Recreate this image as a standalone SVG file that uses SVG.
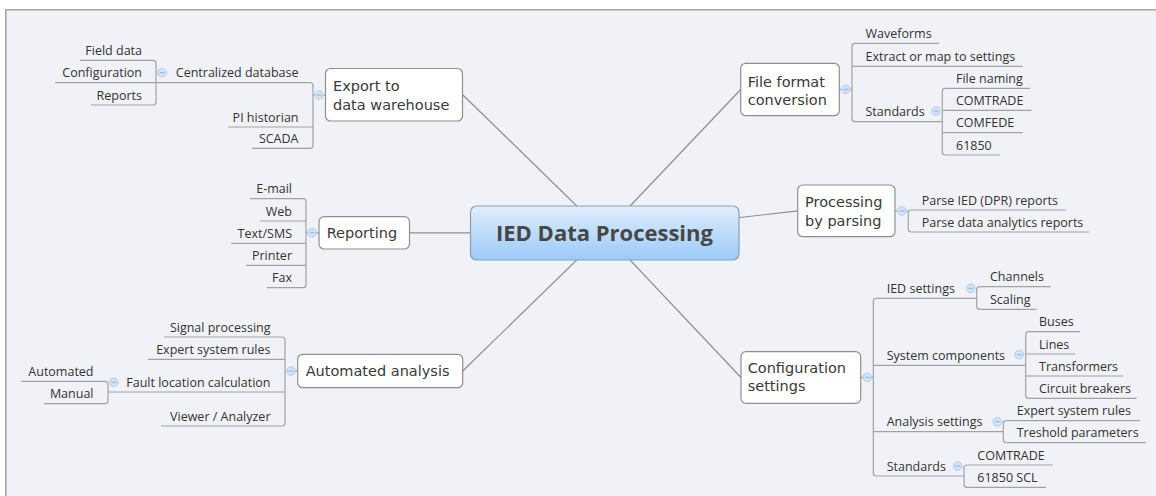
<svg xmlns="http://www.w3.org/2000/svg" width="1156" height="496" viewBox="0 0 1156 496">
<defs>
<linearGradient id="cg" x1="0" y1="0" x2="0" y2="1">
<stop offset="0" stop-color="#e0eefd"/>
<stop offset="1" stop-color="#9ccaf8"/>
</linearGradient>
<style>
.t{font-family:"Open Sans","DejaVu Sans",sans-serif;font-size:12.5px;fill:#333}
.e{text-anchor:end}
.m{font-family:"DejaVu Sans","Open Sans",sans-serif;font-size:14.5px;fill:#3a3a3a}
.c{font-family:"Open Sans","DejaVu Sans",sans-serif;font-size:22px;font-weight:bold;fill:#474747;text-anchor:middle}
.u{stroke:#a2a2a2;stroke-width:1.2;fill:none}
.ln{stroke:#8e8e8e;stroke-width:1.2;fill:none}
.box{fill:#fff;stroke:#8f8f8f;stroke-width:1.2}
.cc{fill:#d3e3f8;stroke:#b4cbec;stroke-width:1}
.cm{stroke:#8fb1df;stroke-width:1}
</style>
</defs>
<rect x="0" y="0" width="1156" height="496" fill="#ffffff"/>
<rect x="5" y="9" width="1151" height="487" fill="#f1f2f7"/>
<path d="M5.8 496 V9.8 H1156" fill="none" stroke="#a6a6a6" stroke-width="1.6"/>

<g id="connectors">
<path class="ln" d="M604.5 233 L462.7 94.7"/>
<path class="ln" d="M604.5 233 L409.5 232.8"/>
<path class="ln" d="M604.5 233 L462.7 371"/>
<path class="ln" d="M604.5 233 L740.7 89.5"/>
<path class="ln" d="M604.5 233 L797.7 210.9"/>
<path class="ln" d="M604.5 233 L741 377.5"/>
<!-- Export -->
<path class="u" d="M325.5 95 H313"/>
<path class="u" d="M310 82.7 Q313 82.7 313 85.7 V145.3 Q313 148.3 310 148.3"/>
<path class="u" d="M153 60.3 Q156 60.3 156 63.3 V102 Q156 105 153 105"/>
<!-- Reporting -->
<path class="u" d="M319 232.8 H306"/>
<path class="u" d="M303 198.7 Q306 198.7 306 201.7 V284.7 Q306 287.7 303 287.7"/>
<!-- Automated analysis -->
<path class="u" d="M297.7 371 H285"/>
<path class="u" d="M282 337 Q285 337 285 340 V423 Q285 426 282 426"/>
<path class="u" d="M105 381.3 Q108 381.3 108 384.3 V400.7 Q108 403.7 105 403.7"/>
<!-- File format -->
<path class="u" d="M839.3 89.5 H852"/>
<path class="u" d="M855 43.3 Q852 43.3 852 46.3 V118.7 Q852 121.7 855 121.7"/>
<path class="u" d="M945.3 88.3 Q942.3 88.3 942.3 91.3 V152 Q942.3 155 945.3 155"/>
<!-- Processing -->
<path class="u" d="M895 211 H908.3"/>
<path class="u" d="M911.3 210 Q908.3 210 908.3 213 V229 Q908.3 232 911.3 232"/>
<!-- Configuration -->
<path class="u" d="M860.7 377.5 H873.3"/>
<path class="u" d="M876.3 298.3 Q873.3 298.3 873.3 301.3 V473 Q873.3 476 876.3 476"/>
<path class="u" d="M979.7 286.7 Q976.7 286.7 976.7 289.7 V306.3 Q976.7 309.3 979.7 309.3"/>
<path class="u" d="M1028.7 331.7 Q1025.7 331.7 1025.7 334.7 V395.3 Q1025.7 398.3 1028.7 398.3"/>
<path class="u" d="M1006.3 420.7 Q1003.3 420.7 1003.3 423.7 V439.7 Q1003.3 442.7 1006.3 442.7"/>
<path class="u" d="M967 465 Q964 465 964 468 V484.3 Q964 487.3 967 487.3"/>
</g>

<g id="central">
<rect x="470.5" y="206" width="268.5" height="54" rx="6" fill="url(#cg)" stroke="#8f9eae" stroke-width="1.2"/>
<text class="c" x="604.5" y="241">IED Data Processing</text>
</g>

<g id="export">
<rect class="box" x="325.5" y="68.5" width="137" height="52.5" rx="5"/>
<text class="m" x="333" y="91">Export to</text>
<text class="m" x="333" y="109.5">data warehouse</text>
<circle class="cc" cx="319" cy="95" r="4.3"/><path class="cm" d="M316.6 95 H321.4"/>
</g>
<g id="centralized-database">
<path class="u" d="M156 82.7 H310"/>
<text class="t e" x="298.5" y="77.2">Centralized database</text>
<circle class="cc" cx="162" cy="72.7" r="4.3"/><path class="cm" d="M159.6 72.7 H164.4"/>
</g>
<g id="field-data"><path class="u" d="M80 60.3 H153"/><text class="t e" x="142" y="54.8">Field data</text></g>
<g id="configuration"><path class="u" d="M55 82.7 H156"/><text class="t e" x="142" y="77.2">Configuration</text></g>
<g id="reports"><path class="u" d="M91 105 H153"/><text class="t e" x="142" y="99.5">Reports</text></g>
<g id="pi-historian"><path class="u" d="M228 127 H313"/><text class="t e" x="298.5" y="121.5">PI historian</text></g>
<g id="scada"><path class="u" d="M252 148.3 H310"/><text class="t e" x="298.5" y="142.8">SCADA</text></g>

<g id="reporting">
<rect class="box" x="319" y="216.7" width="90.5" height="32.3" rx="5"/>
<text class="m" x="326.7" y="238">Reporting</text>
<circle class="cc" cx="312" cy="232.8" r="4.3"/><path class="cm" d="M309.6 232.8 H314.4"/>
</g>
<g id="email"><path class="u" d="M250 198.7 H303"/><text class="t e" x="292" y="193.2">E-mail</text></g>
<g id="web"><path class="u" d="M260 221 H306"/><text class="t e" x="292" y="215.5">Web</text></g>
<g id="text-sms"><path class="u" d="M231 243.3 H306"/><text class="t e" x="292" y="237.8">Text/SMS</text></g>
<g id="printer"><path class="u" d="M246 265.3 H306"/><text class="t e" x="292" y="259.8">Printer</text></g>
<g id="fax"><path class="u" d="M267 287.7 H303"/><text class="t e" x="292" y="282.2">Fax</text></g>

<g id="automated-analysis">
<rect class="box" x="297.7" y="354.3" width="165" height="33.4" rx="5"/>
<text class="m" x="305.7" y="376.2">Automated analysis</text>
<circle class="cc" cx="291" cy="371" r="4.3"/><path class="cm" d="M288.6 371 H293.4"/>
</g>
<g id="signal-processing"><path class="u" d="M164 337 H282"/><text class="t e" x="270.5" y="331.5">Signal processing</text></g>
<g id="expert-rules-a"><path class="u" d="M148 359.3 H285"/><text class="t e" x="270.5" y="353.8">Expert system rules</text></g>
<g id="fault-location">
<path class="u" d="M108 392 H285"/>
<text class="t e" x="270.5" y="386.5">Fault location calculation</text>
<circle class="cc" cx="113.7" cy="382.3" r="4.3"/><path class="cm" d="M111.3 382.3 H116.1"/>
</g>
<g id="automated"><path class="u" d="M21 381.3 H105"/><text class="t e" x="93.5" y="375.8">Automated</text></g>
<g id="manual"><path class="u" d="M44 403.7 H105"/><text class="t e" x="93.5" y="398.2">Manual</text></g>
<g id="viewer"><path class="u" d="M161 426 H282"/><text class="t e" x="270.5" y="420.5">Viewer / Analyzer</text></g>

<g id="file-format">
<rect class="box" x="740.7" y="63.3" width="98.6" height="52.4" rx="5"/>
<text class="m" x="747.7" y="86.5">File format</text>
<text class="m" x="747.7" y="105">conversion</text>
<circle class="cc" cx="846" cy="89.4" r="4.3"/><path class="cm" d="M843.6 89.4 H848.4"/>
</g>
<g id="waveforms"><path class="u" d="M855 43.3 H939"/><text class="t" x="865.5" y="37.8">Waveforms</text></g>
<g id="extract"><path class="u" d="M852 66.3 H1022.7"/><text class="t" x="865.5" y="60.8">Extract or map to settings</text></g>
<g id="standards-ff">
<path class="u" d="M855 121.7 H942.3"/>
<text class="t" x="865.5" y="116.2">Standards</text>
<circle class="cc" cx="936" cy="111" r="4.3"/><path class="cm" d="M933.6 111 H938.4"/>
</g>
<g id="file-naming"><path class="u" d="M945.3 88.3 H1030"/><text class="t" x="956" y="82.8">File naming</text></g>
<g id="comtrade-ff"><path class="u" d="M942.3 110.3 H1031.7"/><text class="t" x="956" y="104.8">COMTRADE</text></g>
<g id="comfede"><path class="u" d="M942.3 132.7 H1022.7"/><text class="t" x="956" y="127.2">COMFEDE</text></g>
<g id="iec61850"><path class="u" d="M945.3 155 H1000"/><text class="t" x="956" y="149.5">61850</text></g>

<g id="processing">
<rect class="box" x="797.7" y="185" width="97.3" height="51.7" rx="5"/>
<text class="m" x="805" y="207">Processing</text>
<text class="m" x="805" y="226">by parsing</text>
<circle class="cc" cx="901.7" cy="211" r="4.3"/><path class="cm" d="M899.3 211 H904.1"/>
</g>
<g id="parse-ied"><path class="u" d="M911.3 210 H1066"/><text class="t" x="921.7" y="204.5">Parse IED (DPR) reports</text></g>
<g id="parse-data"><path class="u" d="M911.3 232 H1089.3"/><text class="t" x="921.7" y="226.5">Parse data analytics reports</text></g>

<g id="configuration-settings">
<rect class="box" x="741" y="351.7" width="119.7" height="51.6" rx="5"/>
<text class="m" x="747.7" y="372.5">Configuration</text>
<text class="m" x="747.7" y="391">settings</text>
<circle class="cc" cx="867.3" cy="377.4" r="4.3"/><path class="cm" d="M864.9 377.4 H869.7"/>
</g>
<g id="ied-settings">
<path class="u" d="M876.3 298.3 H976.7"/>
<text class="t" x="886.7" y="292.8">IED settings</text>
<circle class="cc" cx="970.7" cy="288.3" r="4.3"/><path class="cm" d="M968.3 288.3 H973.1"/>
</g>
<g id="channels"><path class="u" d="M979.7 286.7 H1050.7"/><text class="t" x="990" y="281.2">Channels</text></g>
<g id="scaling"><path class="u" d="M979.7 309.3 H1036.7"/><text class="t" x="990" y="303.8">Scaling</text></g>
<g id="system-components">
<path class="u" d="M873.3 365.3 H1025.7"/>
<text class="t" x="886.7" y="359.8">System components</text>
<circle class="cc" cx="1019.3" cy="354.7" r="4.3"/><path class="cm" d="M1016.9 354.7 H1021.7"/>
</g>
<g id="buses"><path class="u" d="M1028.7 331.7 H1080"/><text class="t" x="1039" y="326.2">Buses</text></g>
<g id="lines"><path class="u" d="M1025.7 354 H1075.3"/><text class="t" x="1039" y="348.5">Lines</text></g>
<g id="transformers"><path class="u" d="M1025.7 376 H1123.3"/><text class="t" x="1039" y="370.5">Transformers</text></g>
<g id="circuit-breakers"><path class="u" d="M1028.7 398.3 H1136.7"/><text class="t" x="1039" y="392.8">Circuit breakers</text></g>
<g id="analysis-settings">
<path class="u" d="M873.3 431.7 H1003.3"/>
<text class="t" x="886.7" y="426.2">Analysis settings</text>
<circle class="cc" cx="997.3" cy="421.7" r="4.3"/><path class="cm" d="M994.9 421.7 H999.7"/>
</g>
<g id="expert-rules-c"><path class="u" d="M1006.3 420.7 H1140"/><text class="t" x="1016.7" y="415.2">Expert system rules</text></g>
<g id="treshold"><path class="u" d="M1006.3 442.7 H1146"/><text class="t" x="1016.7" y="437.2">Treshold parameters</text></g>
<g id="standards-cs">
<path class="u" d="M876.3 476 H964"/>
<text class="t" x="886.7" y="470.5">Standards</text>
<circle class="cc" cx="957.7" cy="466" r="4.3"/><path class="cm" d="M955.3 466 H960.1"/>
</g>
<g id="comtrade-cs"><path class="u" d="M967 465 H1052.7"/><text class="t" x="977.3" y="459.5">COMTRADE</text></g>
<g id="scl"><path class="u" d="M967 487.3 H1046"/><text class="t" x="977.3" y="481.8">61850 SCL</text></g>
</svg>
